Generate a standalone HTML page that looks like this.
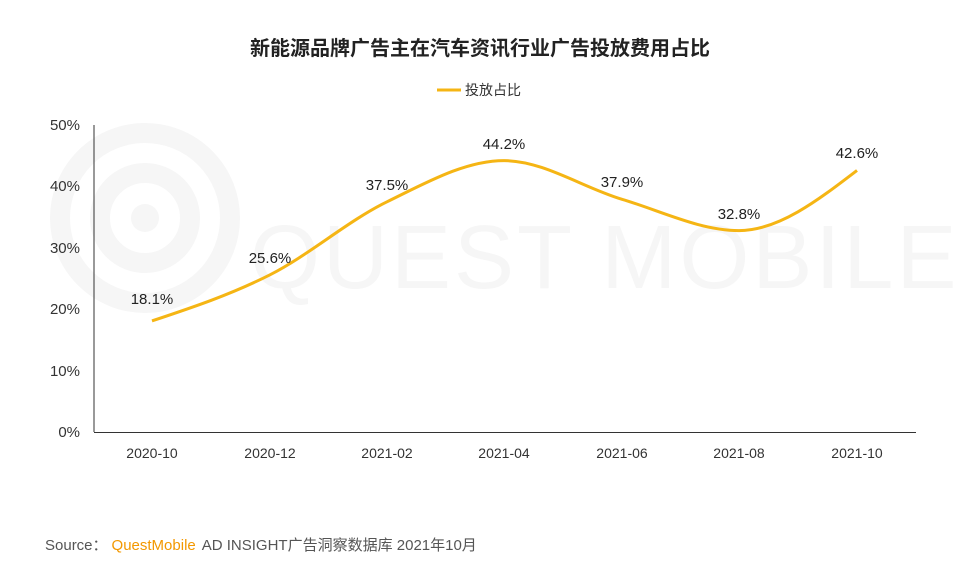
<!DOCTYPE html>
<html><head><meta charset="utf-8"><style>
body{margin:0;background:#fff;}
svg{display:block;font-family:"Liberation Sans","Noto Sans CJK SC",sans-serif;}
</style></head><body>
<svg width="960" height="568" viewBox="0 0 960 568" xmlns="http://www.w3.org/2000/svg">
<rect width="960" height="568" fill="#fff"/>
<g fill="none" stroke="#f6f6f6" stroke-width="20">
<circle cx="145" cy="218" r="85"/>
<circle cx="145" cy="218" r="45"/>
</g>
<circle cx="145" cy="218" r="14" fill="#f6f6f6"/>
<text x="250" y="288" font-size="90" fill="#f6f6f6" letter-spacing="3">QUEST MOBILE</text>
<text x="480" y="55" text-anchor="middle" font-size="20" font-weight="bold" fill="#222">新能源品牌广告主在汽车资讯行业广告投放费用占比</text>
<line x1="437" y1="90" x2="461" y2="90" stroke="#f5b514" stroke-width="3"/>
<text x="465" y="95" font-size="14" fill="#333">投放占比</text>
<g font-size="15" fill="#333" text-anchor="end">
<text x="80" y="130">50%</text><text x="80" y="191">40%</text><text x="80" y="253">30%</text>
<text x="80" y="314">20%</text><text x="80" y="376">10%</text><text x="80" y="437">0%</text>
</g>
<line x1="94" y1="125" x2="94" y2="432" stroke="#333" stroke-width="1"/>
<line x1="94" y1="432.5" x2="916" y2="432.5" stroke="#333" stroke-width="1"/>
<g font-size="14" fill="#333" text-anchor="middle">
<text x="152" y="458">2020-10</text><text x="270" y="458">2020-12</text><text x="387" y="458">2021-02</text>
<text x="504" y="458">2021-04</text><text x="622" y="458">2021-06</text><text x="739" y="458">2021-08</text><text x="857" y="458">2021-10</text>
</g>
<path d="M152,320.9 C191.3,307.8 230.7,294.7 270,274.8 C309,255 348,220.8 387,201.8 C426,182.8 465,160.6 504,160.6 C543.3,160.6 582.7,187.6 622,199.3 C661,210.9 700,230.6 739,230.6 C778.3,230.6 817.7,200.5 857,170.4" fill="none" stroke="#f5b514" stroke-width="3"/>
<g font-size="15" fill="#222" text-anchor="middle">
<text x="152" y="304">18.1%</text><text x="270" y="263">25.6%</text><text x="387" y="190">37.5%</text>
<text x="504" y="149">44.2%</text><text x="622" y="187">37.9%</text><text x="739" y="219">32.8%</text><text x="857" y="158">42.6%</text>
</g>
<text x="45" y="550" font-size="15" fill="#555">Source：<tspan fill="#f39800" dx="4">QuestMobile</tspan><tspan dx="6">AD INSIGHT广告洞察数据库 2021年10月</tspan></text>
</svg>
</body></html>
